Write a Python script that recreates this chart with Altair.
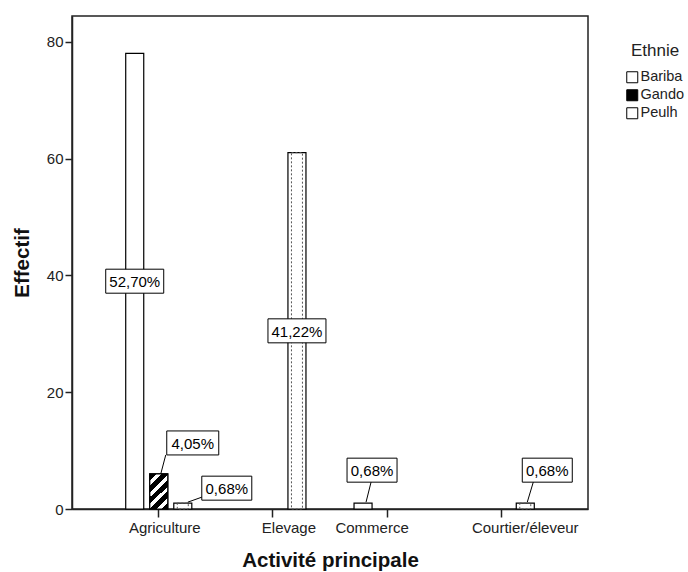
import altair as alt
import pandas as pd

# ---------------- data ----------------
activites = ["Agriculture", "Elevage", "Commerce", "Courtier/éleveur"]
ethnies = ["Bariba", "Gando", "Peulh"]

bar_activite = ["Agriculture", "Agriculture", "Agriculture", "Elevage", "Commerce", "Courtier/éleveur"]
bar_ethnie = ["Bariba", "Gando", "Peulh", "Peulh", "Bariba", "Peulh"]
bar_effectif = [78, 6, 1, 61, 1, 1]
bar_pourcent = ["52,70%", "4,05%", "0,68%", "41,22%", "0,68%", "0,68%"]
y_ticks = [0, 20, 40, 60, 80]

df = pd.DataFrame({
    "idx": list(range(len(bar_activite))),
    "activite": bar_activite,
    "ethnie": bar_ethnie,
    "effectif": bar_effectif,
    "pourcent": bar_pourcent,
})

# ---------------- style / layout ----------------
FONT = "Liberation Sans"
INK = "#222"
# per-label callout layout: anchor, box centre offset (px), box width, leader line (px)
callouts = [
    ("mid", 0, 0, 58, None),
    ("top", 34, -31, 52, (2, 0, 7, -19)),
    ("top", 44, -15, 50, (5, -1, 19, -6)),
    ("mid", 0, 0, 58, None),
    ("top", 9, -33, 50, (3, -1, 8, -21)),
    ("top", 22, -33, 50, (2, -1, 8, -21)),
]
BOX_H = 24
label_shift = {"Agriculture": 6, "Elevage": 16, "Commerce": -15, "Courtier/éleveur": 24}
shift_expr = " : ".join(
    [f"datum.value === '{k}' ? {v}" for k, v in label_shift.items()]
) + " : 0"

x_scale = alt.Scale(domain=activites, paddingInner=0, paddingOuter=0.26)
xo_scale = alt.Scale(domain=ethnies, paddingInner=0.25, paddingOuter=1)
y_scale = alt.Scale(domain=[0, 84.4], nice=False)

x_axis = alt.Axis(
    title="Activité principale", labelAngle=0, tickSize=8, labelPadding=3,
    labelFontSize=15, titleFontSize=20.5, titleFontWeight="bold",
    titleY=57, titleBaseline="alphabetic",
    labelOffset=alt.ExprRef(expr=shift_expr),
)
y_axis = alt.Axis(
    title="Effectif", values=y_ticks, tickSize=7, labelPadding=2, grid=False,
    labelFontSize=15, titleFontSize=20.5, titleFontWeight="bold",
    titleX=-50, titleY=246.5, titleAngle=-90, titleAlign="center", titleBaseline="middle",
)


def enc_x():
    return alt.X("activite:N", scale=x_scale, axis=x_axis, sort=activites)


def enc_xo():
    return alt.XOffset("ethnie:N", scale=xo_scale, sort=ethnies)


def enc_y(field):
    return alt.Y(f"{field}:Q", scale=y_scale, axis=y_axis)


base = alt.Chart(df)

bars = base.mark_bar(stroke="black", strokeWidth=1.2).encode(
    x=enc_x(), xOffset=enc_xo(), y=enc_y("effectif"),
    fill=alt.Fill(
        "ethnie:N",
        scale=alt.Scale(domain=ethnies, range=["white", "black", "white"]),
        legend=alt.Legend(
            title="Ethnie", orient="none", legendX=553, legendY=27,
            titleFontSize=17, titleFontWeight="normal", titleColor=INK,
            titleAnchor="middle", titlePadding=10,
            labelFontSize=14.5, labelColor=INK, labelOffset=1,
            symbolType="square", symbolSize=121, symbolStrokeColor="black",
            symbolStrokeWidth=1, rowPadding=2,
        ),
    ),
)

# hatched Gando
stops = []
period, black_part = 0.22, 0.13
for k in range(5):
    s = k * period
    stops += [
        alt.GradientStop(offset=min(s, 1), color="black"),
        alt.GradientStop(offset=min(s + black_part, 1), color="black"),
        alt.GradientStop(offset=min(s + black_part, 1), color="white"),
        alt.GradientStop(offset=min(s + period, 1), color="white"),
    ]
hatch = alt.Gradient(gradient="linear", x1=0, y1=0, x2=0.61, y2=1.2, stops=stops)

gando = base.transform_filter(alt.datum.ethnie == "Gando").mark_bar(
    fill=hatch, stroke="black", strokeWidth=1.2
).encode(x=enc_x(), xOffset=enc_xo(), y=enc_y("effectif"))

# dotted Peulh
peulh = base.transform_filter(alt.datum.ethnie == "Peulh").mark_bar(
    width=11, fill="transparent", stroke="#555", strokeDash=[2, 2], strokeWidth=1
).encode(x=enc_x(), xOffset=enc_xo(), y=enc_y("effectif"))

layers = [bars, gando, peulh]
texts = []
for i, (anchor, dx, dy, bw, leader) in enumerate(callouts):
    l, r = dx - bw / 2, dx + bw / 2
    t, b = dy - BOX_H / 2, dy + BOX_H / 2
    path = f"M{l},{t}H{r}V{b}H{l}Z"
    if leader:
        path = f"M{leader[0]},{leader[1]}L{leader[2]},{leader[3]}" + path
    expr = "datum.effectif / 2" if anchor == "mid" else "datum.effectif"
    sub = base.transform_filter(alt.datum.idx == i).transform_calculate(ypos=expr)
    layers.append(
        sub.mark_point(shape=path, size=4, filled=True, fill="white",
                       stroke="black", strokeWidth=1, opacity=1)
        .encode(x=enc_x(), xOffset=enc_xo(), y=enc_y("ypos"))
    )
    texts.append(
        sub.mark_text(dx=dx, dy=dy + 1, fontSize=15, align="center",
                      baseline="middle", color="black")
        .encode(x=enc_x(), xOffset=enc_xo(), y=enc_y("ypos"), text="pourcent:N")
    )

chart = alt.layer(*layers, *texts).properties(
    width=516, height=493,
    padding={"left": 72, "top": 16, "right": 100, "bottom": 63},
    autosize=alt.AutoSizeParams(type="none"),
).configure(font=FONT).configure_view(
    stroke=INK, strokeWidth=1.5
).configure_axis(
    domainColor=INK, domainWidth=1.5, tickColor=INK, tickWidth=1.5,
    labelColor=INK, titleColor="#111", labelFont=FONT, titleFont=FONT,
).configure_legend(labelFont=FONT, titleFont=FONT)

chart.save("out.html", embed_options={"renderer": "svg", "actions": False})
